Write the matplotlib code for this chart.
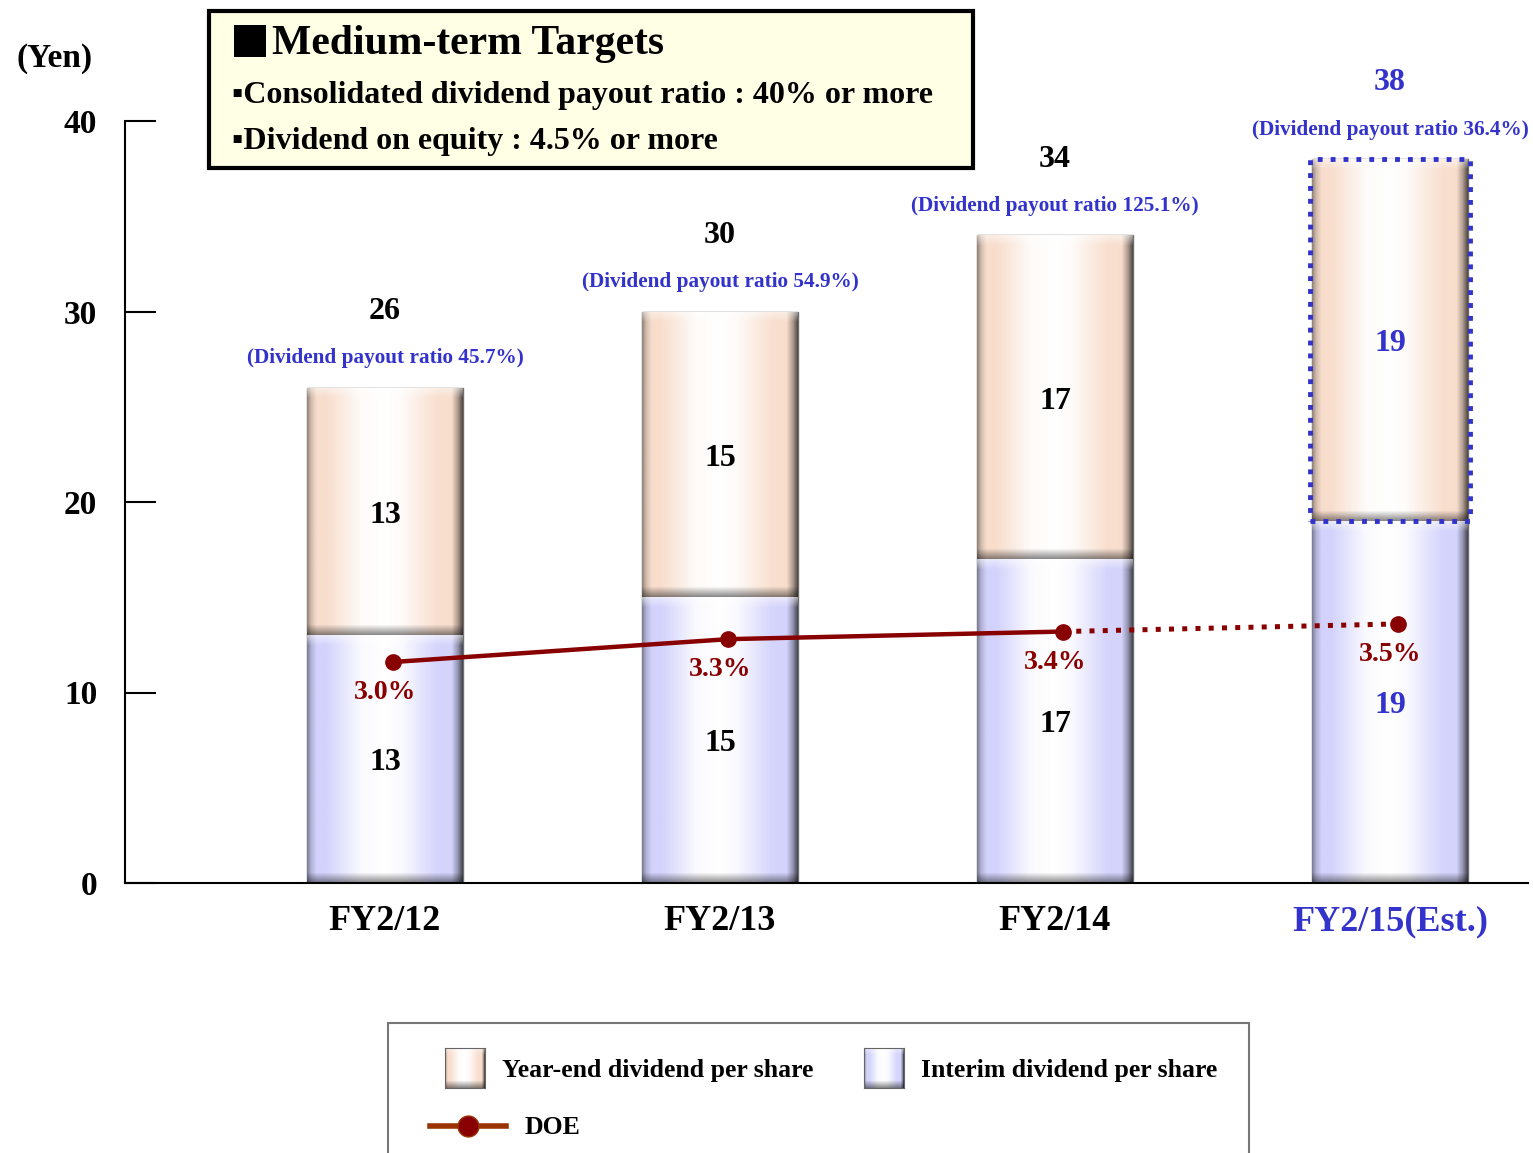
import numpy as np
import matplotlib
matplotlib.use("Agg")
import matplotlib.pyplot as plt
from matplotlib.patches import Rectangle
from matplotlib.lines import Line2D

# data
categories = ["FY2/12", "FY2/13", "FY2/14", "FY2/15(Est.)"]
interim = [13, 15, 17, 19]
year_end = [13, 15, 17, 19]
payout = ["45.7%", "54.9%", "125.1%", "36.4%"]
doe = [3.0, 3.3, 3.4, 3.5]
yticks = [0, 10, 20, 30, 40]

BLUE = "#3333cc"
DARKRED = "#880000"
PEACH = np.array([248, 221, 204]) / 255
LAVENDER = np.array([210, 210, 252]) / 255

plt.rcParams["font.family"] = ["Liberation Serif", "DejaVu Sans"]
plt.rcParams["font.weight"] = "bold"


def bar_image(base, height_px, width_px=160, bevel=11):
    """horizontal shading like a rounded 3D bar, with bevels top and bottom"""
    t = np.linspace(0, 1, width_px)
    w = np.interp(t, [0, 0.12, 0.35, 0.5, 0.6, 0.84, 1], [0, 0, 0.9, 1, 0.9, 0.05, 0])
    shade = np.interp(t, [0, 0.025, 0.06, 0.93, 0.97, 1], [0.6, 0.85, 1, 1, 0.7, 0.35])
    row = (base[None, :] * (1 - w[:, None]) + w[:, None]) * shade[:, None]
    h = max(int(height_px), 2 * bevel + 2)
    img = np.repeat(row[None, :, :], h, axis=0)
    ramp = np.linspace(0, 1, bevel)[:, None, None]
    img[:bevel] = img[:bevel] * (0.5 + 0.5 * ramp) + (0.5 - 0.5 * ramp)
    img[-bevel:] = img[-bevel:] * (1 - 0.45 * ramp)
    return np.clip(img, 0, 1)


fig = plt.figure(figsize=(15.33, 11.53), dpi=100)
ax = fig.add_axes([125 / 1533, 270 / 1153, 1403 / 1533, 762 / 1153])

x = np.arange(len(categories))
width = 0.463
px_per_unit = 762 / 40

for i, xi in enumerate(x):
    for bottom, val, base in [(0, interim[i], LAVENDER), (interim[i], year_end[i], PEACH)]:
        bar = ax.bar(xi, val, width, bottom=bottom, color=base,
                     edgecolor="#6e6e6e", linewidth=1, zorder=2)[0]
        im = ax.imshow(bar_image(base, val * px_per_unit),
                       extent=[xi - width / 2, xi + width / 2, bottom, bottom + val],
                       aspect="auto", origin="upper", zorder=2.5, interpolation="bilinear")
        im.set_clip_path(bar)

# dotted frame on the forecast year-end part
ax.add_patch(Rectangle((x[3] - width / 2 - 0.008, interim[3]), width + 0.016, year_end[3],
                       fill=False, edgecolor=BLUE, linestyle=":", linewidth=3.5, zorder=4))

# labels
for i, xi in enumerate(x):
    c = BLUE if i == 3 else "black"
    total = interim[i] + year_end[i]
    ax.text(xi, interim[i] / 2 - 0.2, str(interim[i]), ha="center", va="center", fontsize=23,
            color=c, zorder=5)
    ax.text(xi, interim[i] + year_end[i] / 2 - 0.2, str(year_end[i]), ha="center", va="center",
            fontsize=23, color=c, zorder=5)
    ax.text(xi, total + 4.0, str(total), ha="center", va="center", fontsize=23, color=c, clip_on=False)
    ax.text(xi, total + 1.55, f"(Dividend payout ratio {payout[i]})", ha="center", va="center",
            fontsize=15.3, color=BLUE, clip_on=False)

ax.set_xlim(-0.776, 3.412)
ax.set_ylim(0, 40)
ax.set_yticks(yticks)
ax.set_xticks(x, categories)
ax.tick_params(axis="y", direction="in", length=22, width=1.5, pad=20, labelsize=24)
ax.tick_params(axis="x", length=0, pad=16, labelsize=26)
ax.get_xticklabels()[3].set_color(BLUE)
for s in ["top", "right"]:
    ax.spines[s].set_visible(False)
for s in ["left", "bottom"]:
    ax.spines[s].set_linewidth(1.5)

# DOE on its own hidden scale
ax2 = ax.twinx()
ax2.set_ylim(0.1, 10.1)
ax2.axis("off")
xd = x + 0.024
ax2.plot(xd[:3], doe[:3], "-", color=DARKRED, linewidth=3.2, zorder=6)
ax2.plot(xd[2:], doe[2:], ":", color=DARKRED, linewidth=3.6, zorder=6)
ax2.plot(xd, doe, "o", color=DARKRED, markersize=11, zorder=7)
for i, xi in enumerate(x):
    ax2.text(xi, doe[i] - 0.4, f"{doe[i]:.1f}%", ha="center", va="center", fontsize=20,
             color=DARKRED, zorder=8)

fig.text(55 / 1533, 1 - 59 / 1153, "(Yen)", ha="center", va="center", fontsize=24)

# targets box
fig.patches.append(Rectangle((209 / 1533, 1 - 168 / 1153), 764 / 1533, 157 / 1153,
                             transform=fig.transFigure, facecolor="#ffffe6",
                             edgecolor="black", linewidth=3))
fig.patches.append(Rectangle((234 / 1533, 1 - 57 / 1153), 32 / 1533, 32 / 1153,
                             transform=fig.transFigure, facecolor="black", edgecolor="none"))
fig.text(272 / 1533, 1 - 44 / 1153, "Medium-term Targets", ha="left", va="center", fontsize=30)
fig.text(232 / 1533, 1 - 96 / 1153, "\u25aaConsolidated dividend payout ratio : 40% or more",
         ha="left", va="center", fontsize=23)
fig.text(232 / 1533, 1 - 142 / 1153, "\u25aaDividend on equity : 4.5% or more",
         ha="left", va="center", fontsize=23)

# legend
fig.patches.append(Rectangle((388 / 1533, -0.05), 861 / 1533, 0.05 + 130 / 1153,
                             transform=fig.transFigure, facecolor="white",
                             edgecolor="#777777", linewidth=1.5, zorder=-1))
for left, base, label in [(445, PEACH, "Year-end dividend per share"),
                          (864, LAVENDER, "Interim dividend per share")]:
    hax = fig.add_axes([left / 1533, 1 - 1088 / 1153, 40 / 1533, 40 / 1153])
    hax.set_zorder(3)
    hax.imshow(bar_image(base, 40, 40, 8), aspect="auto", interpolation="bilinear")
    hax.set_xticks([])
    hax.set_yticks([])
    for s in hax.spines.values():
        s.set_edgecolor("#666666")
    fig.text((left + 57) / 1533, 1 - 1070 / 1153, label, ha="left", va="center", fontsize=18.5)
fig.lines.append(Line2D([430 / 1533, 506 / 1533], [1 - 1126 / 1153] * 2, transform=fig.transFigure,
                        color="#993300", linewidth=4))
fig.lines.append(Line2D([468 / 1533], [1 - 1126 / 1153], transform=fig.transFigure,
                        color=DARKRED, marker="o", markersize=15, markeredgecolor="#993300"))
fig.text(525 / 1533, 1 - 1128 / 1153, "DOE", ha="left", va="center", fontsize=18.5)

fig.savefig("out.png", dpi=100)
